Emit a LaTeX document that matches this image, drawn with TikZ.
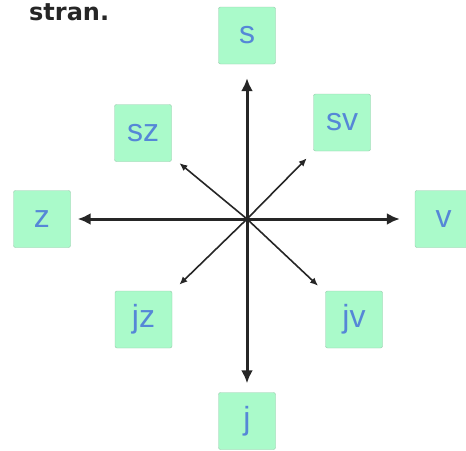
\documentclass[tikz,border=0pt]{standalone}
\usepackage{fontspec}
\setmainfont{Liberation Sans}
\newfontfamily\naslovfont{DejaVu Sans}
\usetikzlibrary{arrows.meta}
\definecolor{polje}{RGB}{170,250,202}
\definecolor{rob}{RGB}{150,200,170}
\definecolor{crka}{RGB}{85,135,215}
\tikzset{
  smer/.style={draw=rob, fill=polje, rounded corners=2pt, minimum width=57pt,
    minimum height=57pt, inner sep=0pt, text=crka, font=\fontsize{32}{32}\selectfont},
  glavna/.style={-{Latex[length=13pt,width=12pt]}, line width=3pt, black!85},
  stranska/.style={-{Latex[length=8pt,width=7pt]}, line width=1.6pt, black!85}
}

\begin{document}
\begin{tikzpicture}[x=1pt,y=-1pt]
\useasboundingbox (0,0) rectangle (466,450);
\clip (0,0) rectangle (466,450);
% naslov
\node[anchor=base west, inner sep=0pt, text=black!85,
  font=\naslovfont\bfseries\fontsize{24}{24}\selectfont] (naslov) at (29,20) {stran.};
% okvirji strani neba
\foreach \ime/\xx/\yy in {s/247/35.5, sz/143/133, sv/342/122.5, z/42/219,
  v/443.5/219, jz/143.5/319.5, jv/354/319.5, j/247/421}{
  \node[smer] (\ime) at (\xx,\yy) {\ime};
}
\coordinate (c) at (247,219);
% glavne smeri
\foreach \ime/\kr in {s/14pt, j/9pt, z/7pt, v/15pt}{
  \draw[glavna, shorten >=\kr] (c) -- (\ime);
}
% stranske smeri
\foreach \ime in {sz, sv, jz, jv}{
  \draw[stranska, shorten >=10pt] (c) -- (\ime);
}
\end{tikzpicture}
\end{document}
